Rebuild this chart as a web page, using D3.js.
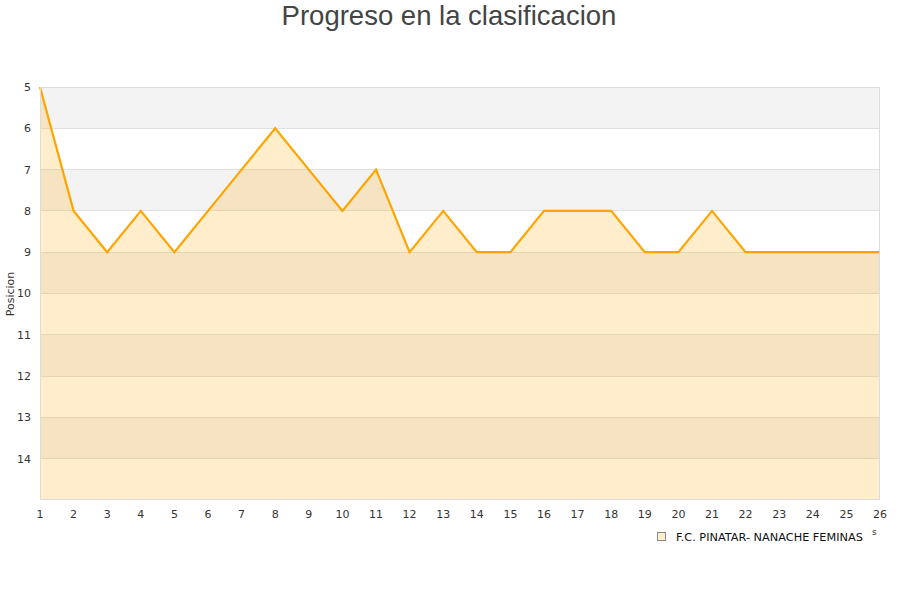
<!DOCTYPE html>
<html><head><meta charset="utf-8">
<script src="https://cdn.jsdelivr.net/npm/d3@7/dist/d3.min.js"></script>
<style>body{margin:0;background:#fff}svg{display:block}</style>
</head><body>
<svg id="c" width="900" height="600"></svg>
<script>
const jornadas = [1,2,3,4,5,6,7,8,9,10,11,12,13,14,15,16,17,18,19,20,21,22,23,24,25,26];
const posiciones = [5,8,9,8,9,8,7,6,7,8,7,9,8,9,9,8,8,8,9,9,8,9,9,9,9,9];
const yTicks = [5,6,7,8,9,10,11,12,13,14];
const serieNombre = "F.C. PINATAR- NANACHE FEMINAS";
const titulo = "Progreso en la clasificacion";

const svg = d3.select("#c");
const L=40, R=880, T=87, B=500;
const x = d3.scaleLinear().domain([1,26]).range([L,R]);
const y = d3.scaleLinear().domain([5,15]).range([T,B]);

// bands
const bands = d3.range(5,15);
svg.append("g").selectAll("rect").data(bands).join("rect")
  .attr("x",L).attr("width",R-L)
  .attr("y",d=>y(d)).attr("height",d=>y(d+1)-y(d))
  .attr("fill",d=>(d%2===1)?"#f3f3f3":"#ffffff");
// gridlines
svg.append("g").selectAll("line").data(d3.range(6,15)).join("line")
  .attr("x1",L).attr("x2",R).attr("y1",d=>y(d)).attr("y2",d=>y(d))
  .attr("stroke","#e0e0e0").attr("stroke-width",1).attr("shape-rendering","crispEdges");

const data = jornadas.map((j,i)=>({j,p:posiciones[i]}));
svg.append("path").datum(data)
  .attr("d",d3.area().x(d=>x(d.j)).y0(y(15)).y1(d=>y(d.p)))
  .attr("fill","rgba(255,165,0,0.2)");
svg.append("path").datum(data)
  .attr("d",d3.line().x(d=>x(d.j)).y(d=>y(d.p)))
  .attr("fill","none").attr("stroke","#ffa500").attr("stroke-width",2.2).attr("stroke-linejoin","miter");

// border
svg.append("rect").attr("x",L+0.5).attr("y",T+0.5).attr("width",R-L-1).attr("height",B-T-1)
  .attr("fill","none").attr("stroke","#dcdcdc");

const font = "DejaVu Sans, Verdana, sans-serif";
// y ticks
svg.append("g").selectAll("text").data(yTicks).join("text")
  .attr("x",31).attr("y",d=>y(d)).attr("dy","0.36em").attr("text-anchor","end")
  .attr("font-family",font).attr("font-size",11).attr("fill","#333").text(d=>d);
// x ticks
svg.append("g").selectAll("text").data(jornadas).join("text")
  .attr("x",d=>x(d)).attr("y",518).attr("text-anchor","middle")
  .attr("font-family",font).attr("font-size",11).attr("fill","#333").text(d=>d);

svg.append("text").attr("transform","translate(14,294) rotate(-90)")
  .attr("text-anchor","middle").attr("font-family",font).attr("font-size",11).attr("fill","#333").text("Posicion");

svg.append("text").attr("x",449).attr("y",25).attr("text-anchor","middle")
  .attr("font-family","Liberation Sans, Arial, sans-serif").attr("font-size",27.5).attr("fill","#444").text(titulo);

// legend
svg.append("rect").attr("x",657.5).attr("y",532.5).attr("width",8).attr("height",8)
  .attr("fill","#ffedcc").attr("stroke","#888");
svg.append("text").attr("x",676).attr("y",540.5).attr("font-family",font).attr("font-size",11.3)
  .attr("fill","#111").text(serieNombre);
svg.append("text").attr("x",872).attr("y",535).attr("font-family",font).attr("font-size",9)
  .attr("fill","#333").text("s");
</script>
</body></html>
